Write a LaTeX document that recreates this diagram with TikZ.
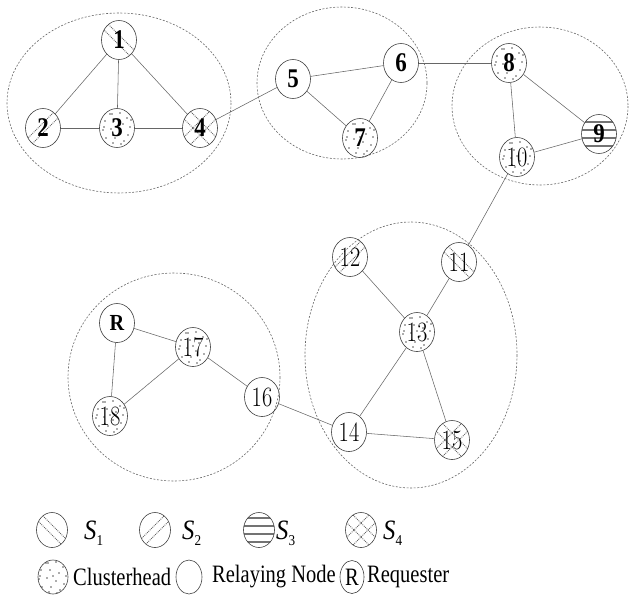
\documentclass[tikz,border=0pt]{standalone}
\usepackage{fontspec}
\usepackage{graphicx}
\newfontfamily\tms{Liberation Serif}
\usetikzlibrary{shapes.geometric}
\newcommand\bnum[1]{\scalebox{0.85}[1]{\fontsize{27}{27}\selectfont\tms\bfseries #1}}
\newcommand\lnum[1]{\scalebox{0.8}[1]{\fontsize{28}{28}\selectfont #1}}
\newcommand\ltxt[1]{\scalebox{0.82}[1]{\fontsize{25}{25}\selectfont\tms #1}}
\newcommand\slab[1]{\scalebox{0.88}[1]{\fontsize{28}{28}\selectfont\tms\itshape S\/\raisebox{-6pt}{\fontsize{15}{15}\selectfont\upshape #1}}}
\tikzset{
  nd/.style={ellipse, draw=black!75, line width=0.6pt, minimum width=35, minimum height=39, inner sep=0pt},
  lg/.style={nd, minimum width=31, minimum height=35},
  pat/.style={densely dotted, line width=0.9pt, black!60},
  sone/.style={path picture={\foreach \o in {-5,5}{\draw[pat] ([shift={(-24,-24+\o)}]path picture bounding box.center) -- ([shift={(24,24+\o)}]path picture bounding box.center);}}},
  stwo/.style={path picture={\foreach \o in {-5,5}{\draw[pat] ([shift={(-24,24+\o)}]path picture bounding box.center) -- ([shift={(24,-24+\o)}]path picture bounding box.center);}}},
  sthree/.style={path picture={\foreach \o in {-12,-4,4,12}{\draw[black!55, line width=1.8pt] ([shift={(-24,\o)}]path picture bounding box.center) -- ([shift={(24,\o)}]path picture bounding box.center);}}},
  sfour/.style={path picture={\foreach \o in {-7,7}{\draw[pat] ([shift={(-24,-24+\o)}]path picture bounding box.center) -- ([shift={(24,24+\o)}]path picture bounding box.center);
      \draw[pat] ([shift={(-24,24+\o)}]path picture bounding box.center) -- ([shift={(24,-24+\o)}]path picture bounding box.center);}}},
  chd/.style={path picture={\foreach \a/\b in {-7/-14,3/-15,10/-10,-12/-7,-3/-7,6/-4,13/-1,-14/2,-6/1,3/4,11/7,-11/10,-2/10,7/13,-5/-14,14/-8,-13/-1,0/-1,-4/15,4/16}{\fill[black!65] ([shift={(\a,\b)}]path picture bounding box.center) circle (0.95);}}},
  clu/.style={draw=black!60, line width=0.6pt, dash pattern=on 2pt off 1.6pt},
  ed/.style={draw=black!60, line width=0.55pt},
  tx/.style={anchor=west, inner sep=0pt}
}
\begin{document}
\begin{tikzpicture}[x=1pt,y=-1pt]
\useasboundingbox (0,0) rectangle (631,597);
% clusters
\draw[clu] (119,103) ellipse [x radius=112, y radius=90];
\draw[clu] (342,83) ellipse [x radius=85, y radius=76];
\draw[clu] (540,106) ellipse [x radius=88, y radius=79];
\draw[clu] (411,355) ellipse [x radius=106, y radius=133];
\draw[clu] (174,377) ellipse [x radius=106, y radius=104];
% nodes
\node[nd, sone] (n1) at (119,40) {\bnum{1}};
\node[nd, stwo] (n2) at (43,128) {\bnum{2}};
\node[nd, chd] (n3) at (117,128) {\bnum{3}};
\node[nd, sfour] (n4) at (200,128) {\bnum{4}};
\node[nd] (n5) at (293,79) {\bnum{5}};
\node[nd] (n6) at (401,63) {\bnum{6}};
\node[nd, chd] (n7) at (360,138) {\bnum{7}};
\node[nd, chd] (n8) at (509,63) {\bnum{8}};
\node[nd, sthree] (n9) at (599,134) {\bnum{9}};
\node[nd, sfour, chd] (n10) at (517,157) {\lnum{10}};
\node[nd, sone] (n11) at (459,262) {\lnum{11}};
\node[nd, stwo] (n12) at (350,257) {\lnum{12}};
\node[nd, chd] (n13) at (417,332) {\lnum{13}};
\node[nd] (n14) at (349,432) {\lnum{14}};
\node[nd, sfour] (n15) at (452,440) {\lnum{15}};
\node[nd] (n16) at (262,397) {\lnum{16}};
\node[nd, chd] (n17) at (193,347) {\lnum{17}};
\node[nd, stwo, chd] (n18) at (110,416) {\lnum{18}};
\node[nd] (nR) at (117,323) {\scalebox{0.88}[1]{\fontsize{23}{23}\selectfont\tms\bfseries R}};
% edges
\draw[ed] (n1) -- (n2);
\draw[ed] (n1) -- (n3);
\draw[ed] (n1) -- (n4);
\draw[ed] (n2) -- (n3);
\draw[ed] (n3) -- (n4);
\draw[ed] (n4) -- (n5);
\draw[ed] (n5) -- (n6);
\draw[ed] (n5) -- (n7);
\draw[ed] (n6) -- (n7);
\draw[ed] (n6) -- (n8);
\draw[ed] (n8) -- (n9);
\draw[ed] (n8) -- (n10);
\draw[ed] (n9) -- (n10);
\draw[ed] (n10) -- (n11);
\draw[ed] (n11) -- (n13);
\draw[ed] (n12) -- (n13);
\draw[ed] (n13) -- (n14);
\draw[ed] (n13) -- (n15);
\draw[ed] (n14) -- (n15);
\draw[ed] (n14) -- (n16);
\draw[ed] (n16) -- (n17);
\draw[ed] (n17) -- (nR);
\draw[ed] (n17) -- (n18);
\draw[ed] (nR) -- (n18);
% legend
\node[lg, sone] (l1) at (52,530) {};
\node[tx] (t1) at (84,533) {\slab{1}};
\node[lg, stwo] (l2) at (155,530) {};
\node[tx] (t2) at (182,533) {\slab{2}};
\node[lg, sthree] (l3) at (259,530) {};
\node[tx] (t3) at (276,533) {\slab{3}};
\node[lg, sfour] (l4) at (361,530) {};
\node[tx] (t4) at (383,533) {\slab{4}};
\node[lg, chd, minimum width=30, minimum height=34] (l5) at (53,577) {};
\node[tx] (t5) at (73,577) {\ltxt{Clusterhead}};
\node[lg, minimum width=26, minimum height=34] (l6) at (189,577) {};
\node[tx] (t6) at (212,577) {\ltxt{Relaying Node}};
\node[lg, minimum width=24, minimum height=33] (l7) at (352,577) {\ltxt{R}};
\node[tx] (t7) at (367,577) {\ltxt{Requester}};
\end{tikzpicture}
\end{document}
